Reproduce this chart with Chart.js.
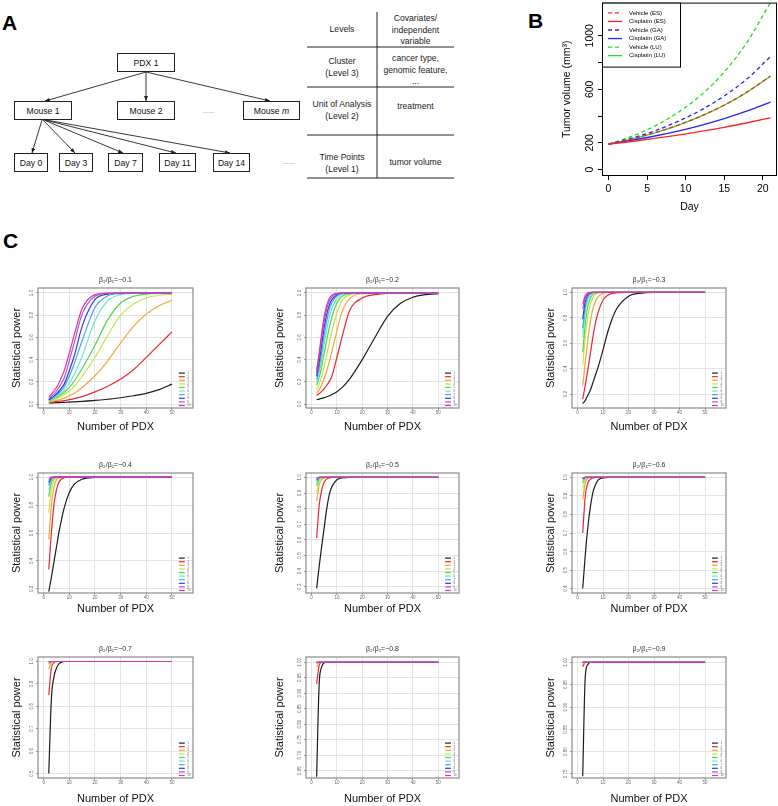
<!DOCTYPE html>
<html>
<head>
<meta charset="utf-8">
<script src="https://cdn.jsdelivr.net/npm/chart.js@4"></script>
<style>
  body { margin: 0; background: #fff; }
  #page { position: relative; width: 778px; height: 806px; overflow: hidden; font-family: "Liberation Sans", Arial, sans-serif; }
  .lbl { position: absolute; font: bold 21px/21px "Liberation Sans", Arial, sans-serif; color: #000; }
  .box { position: absolute; box-sizing: border-box; border: 1.3px solid #222; display: flex; align-items: center; justify-content: center; font-size: 8.6px; color: #111; background: #fff; white-space: nowrap; }
  .dots { position: absolute; font-size: 6px; color: #222; letter-spacing: 0.3px; }
  .cell { position: absolute; text-align: center; font-size: 8.6px; line-height: 11.5px; color: #222; white-space: nowrap; }
  canvas { position: absolute; }
</style>
</head>
<body>
<div id="page">

  <!-- ---------------- PAINEL A ---------------- -->
  <div class="lbl" style="left:2px;top:12px">A</div>
  <svg width="470" height="200" style="position:absolute;left:0;top:0">
    <defs>
      <marker id="ah" markerUnits="userSpaceOnUse" markerWidth="5" markerHeight="4" refX="5" refY="2" orient="auto">
        <path d="M0,0 L5,2 L0,4 z" fill="#222"></path>
      </marker>
    </defs>
    <g stroke="#222" stroke-width="0.9">
      <line x1="146" y1="72" x2="45" y2="101" marker-end="url(#ah)"></line>
      <line x1="146" y1="72" x2="146" y2="101" marker-end="url(#ah)"></line>
      <line x1="146" y1="72" x2="270" y2="101" marker-end="url(#ah)"></line>
      <line x1="42" y1="120" x2="32" y2="153" marker-end="url(#ah)"></line>
      <line x1="43" y1="120" x2="75" y2="153" marker-end="url(#ah)"></line>
      <line x1="44" y1="120" x2="123" y2="153" marker-end="url(#ah)"></line>
      <line x1="45" y1="120" x2="176" y2="153" marker-end="url(#ah)"></line>
      <line x1="46" y1="120" x2="230" y2="153" marker-end="url(#ah)"></line>
    </g>
    <g stroke="#222" stroke-width="1">
      <line x1="377" y1="12" x2="377" y2="178"></line>
      <line x1="307" y1="47" x2="454" y2="47"></line>
      <line x1="307" y1="87" x2="454" y2="87"></line>
      <line x1="307" y1="135" x2="454" y2="135"></line>
      <line x1="307" y1="178" x2="454" y2="178"></line>
    </g>
  </svg>
  <div class="box" style="left:117px;top:53px;width:58px;height:19px">PDX 1</div>
  <div class="box" style="left:14px;top:101px;width:58px;height:19px">Mouse 1</div>
  <div class="box" style="left:117px;top:101px;width:58px;height:19px">Mouse 2</div>
  <div class="box" style="left:243px;top:101px;width:57px;height:19px">Mouse&nbsp;<i>m</i></div>
  <div class="dots" style="left:203px;top:108px">......</div>
  <div class="box" style="left:14px;top:153px;width:34px;height:19px">Day 0</div>
  <div class="box" style="left:59px;top:153px;width:34px;height:19px">Day 3</div>
  <div class="box" style="left:108px;top:153px;width:35px;height:19px">Day 7</div>
  <div class="box" style="left:159px;top:153px;width:37px;height:19px">Day 11</div>
  <div class="box" style="left:213px;top:153px;width:37px;height:19px">Day 14</div>
  <div class="dots" style="left:283px;top:159px">......</div>

  <div class="cell" style="left:307px;width:70px;top:24px">Levels</div>
  <div class="cell" style="left:377px;width:77px;top:13px">Covariates/<br>independent<br>variable</div>
  <div class="cell" style="left:307px;width:70px;top:56px">Cluster<br>(Level 3)</div>
  <div class="cell" style="left:377px;width:77px;top:53px">cancer type,<br>genomic feature,<br>...</div>
  <div class="cell" style="left:307px;width:70px;top:99px">Unit of Analysis<br>(Level 2)</div>
  <div class="cell" style="left:377px;width:77px;top:101px">treatment</div>
  <div class="cell" style="left:307px;width:70px;top:152px">Time Points<br>(Level 1)</div>
  <div class="cell" style="left:377px;width:77px;top:157px">tumor volume</div>

  <!-- ---------------- PAINEL B ---------------- -->
  <div class="lbl" style="left:528px;top:10px">B</div>
  <canvas id="graficoVolume" width="238" height="220" style="left:540px;top:0px"></canvas>

  <!-- ---------------- PAINEL C ---------------- -->
  <div class="lbl" style="left:3px;top:230px">C</div>
</div>

<script>
// ---------------- DADOS: VOLUME DO TUMOR ----------------
const days = [0, 3, 6, 9, 12, 15, 18, 21];
const vehicleES   = [190, 229, 276, 332, 400, 482, 581, 700];
const cisplatinES = [190, 210, 233, 258, 286, 316, 350, 387];
const vehicleGA   = [190, 235, 290, 360, 445, 550, 680, 845];
const cisplatinGA = [190, 219, 251, 288, 331, 381, 438, 504];
const vehicleLU   = [190, 248, 325, 426, 557, 729, 955, 1250];
const cisplatinLU = [190, 228, 275, 331, 399, 481, 580, 698];
const groupNames = ['Vehicle (ES)', 'Cisplatin (ES)', 'Vehicle (GA)', 'Cisplatin (GA)', 'Vehicle (LU)', 'Cisplatin (LU)'];
const dayTicks = [0, 5, 10, 15, 20];
const volumeTicks = [0, 200, 400, 600, 800, 1000];
const volumeTickLabels = ['0', '200', '', '600', '', '1000'];

// ---------------- DADOS: PODER ESTATÍSTICO ----------------
const pdxCounts = [2, 3, 4, 5, 6, 7, 8, 10, 12, 15, 20, 25, 30, 35, 40, 45, 50];
const pdxTicks = [0, 10, 20, 30, 40, 50];
const sdLabels = ['1', '2', '3', '4', '5', '6', '7', '8', '9', '10'];
const betaRatios = ['−0.1', '−0.2', '−0.3', '−0.4', '−0.5', '−0.6', '−0.7', '−0.8', '−0.9'];

const power01 = [
  [0.010, 0.011, 0.012, 0.013, 0.014, 0.015, 0.016, 0.018, 0.021, 0.025, 0.033, 0.044, 0.057, 0.075, 0.097, 0.130, 0.180],
  [0.020, 0.021, 0.022, 0.024, 0.026, 0.028, 0.031, 0.040, 0.050, 0.068, 0.110, 0.160, 0.225, 0.310, 0.420, 0.535, 0.650],
  [0.020, 0.024, 0.028, 0.033, 0.039, 0.046, 0.054, 0.075, 0.100, 0.150, 0.255, 0.390, 0.550, 0.700, 0.810, 0.885, 0.935],
  [0.025, 0.032, 0.040, 0.050, 0.060, 0.072, 0.085, 0.120, 0.160, 0.250, 0.420, 0.620, 0.800, 0.900, 0.955, 0.980, 0.990],
  [0.030, 0.038, 0.048, 0.060, 0.073, 0.088, 0.105, 0.150, 0.210, 0.320, 0.530, 0.760, 0.910, 0.970, 0.990, 0.997, 1],
  [0.033, 0.043, 0.055, 0.069, 0.086, 0.105, 0.127, 0.190, 0.270, 0.430, 0.750, 0.930, 0.985, 0.997, 1, 1, 1],
  [0.036, 0.048, 0.063, 0.081, 0.102, 0.126, 0.154, 0.250, 0.370, 0.570, 0.870, 0.975, 0.995, 1, 1, 1, 1],
  [0.040, 0.055, 0.072, 0.093, 0.118, 0.147, 0.180, 0.300, 0.440, 0.700, 0.940, 0.990, 1, 1, 1, 1, 1],
  [0.050, 0.068, 0.090, 0.118, 0.150, 0.190, 0.235, 0.390, 0.560, 0.810, 0.970, 0.997, 1, 1, 1, 1, 1],
  [0.065, 0.088, 0.116, 0.150, 0.193, 0.243, 0.300, 0.460, 0.630, 0.860, 0.985, 1, 1, 1, 1, 1, 1]
];
const power02 = [
  [0.040, 0.045, 0.051, 0.058, 0.066, 0.075, 0.086, 0.112, 0.148, 0.225, 0.400, 0.600, 0.790, 0.905, 0.962, 0.985, 0.995],
  [0.080, 0.095, 0.115, 0.140, 0.170, 0.205, 0.250, 0.420, 0.600, 0.840, 0.955, 0.985, 0.997, 1, 1, 1, 1],
  [0.100, 0.130, 0.175, 0.230, 0.300, 0.380, 0.470, 0.660, 0.830, 0.950, 0.995, 1, 1, 1, 1, 1, 1],
  [0.130, 0.180, 0.250, 0.340, 0.440, 0.550, 0.650, 0.820, 0.930, 0.985, 1, 1, 1, 1, 1, 1, 1],
  [0.170, 0.240, 0.340, 0.460, 0.580, 0.690, 0.780, 0.910, 0.970, 0.995, 1, 1, 1, 1, 1, 1, 1],
  [0.190, 0.280, 0.400, 0.540, 0.670, 0.780, 0.860, 0.950, 0.990, 1, 1, 1, 1, 1, 1, 1, 1],
  [0.220, 0.330, 0.470, 0.620, 0.750, 0.850, 0.910, 0.975, 0.995, 1, 1, 1, 1, 1, 1, 1, 1],
  [0.250, 0.380, 0.540, 0.690, 0.810, 0.890, 0.940, 0.985, 1, 1, 1, 1, 1, 1, 1, 1, 1],
  [0.280, 0.430, 0.600, 0.750, 0.860, 0.930, 0.965, 0.993, 1, 1, 1, 1, 1, 1, 1, 1, 1],
  [0.300, 0.460, 0.640, 0.790, 0.890, 0.950, 0.980, 0.997, 1, 1, 1, 1, 1, 1, 1, 1, 1]
];
const power03 = [
  [0.125, 0.150, 0.190, 0.230, 0.290, 0.350, 0.410, 0.550, 0.700, 0.860, 0.970, 0.995, 1, 1, 1, 1, 1],
  [0.160, 0.270, 0.390, 0.520, 0.650, 0.760, 0.840, 0.940, 0.980, 0.997, 1, 1, 1, 1, 1, 1, 1],
  [0.265, 0.450, 0.620, 0.770, 0.870, 0.930, 0.965, 0.993, 1, 1, 1, 1, 1, 1, 1, 1, 1],
  [0.430, 0.650, 0.810, 0.910, 0.960, 0.985, 0.995, 1, 1, 1, 1, 1, 1, 1, 1, 1, 1],
  [0.530, 0.750, 0.890, 0.955, 0.985, 0.995, 1, 1, 1, 1, 1, 1, 1, 1, 1, 1, 1],
  [0.650, 0.840, 0.940, 0.980, 0.995, 1, 1, 1, 1, 1, 1, 1, 1, 1, 1, 1, 1],
  [0.720, 0.890, 0.965, 0.990, 1, 1, 1, 1, 1, 1, 1, 1, 1, 1, 1, 1, 1],
  [0.790, 0.930, 0.980, 0.995, 1, 1, 1, 1, 1, 1, 1, 1, 1, 1, 1, 1, 1],
  [0.870, 0.960, 0.990, 1, 1, 1, 1, 1, 1, 1, 1, 1, 1, 1, 1, 1, 1],
  [0.910, 0.975, 0.995, 1, 1, 1, 1, 1, 1, 1, 1, 1, 1, 1, 1, 1, 1]
];
const power04 = [
  [0.180, 0.280, 0.390, 0.500, 0.610, 0.700, 0.780, 0.890, 0.950, 0.985, 0.998, 1, 1, 1, 1, 1, 1],
  [0.340, 0.600, 0.800, 0.910, 0.965, 0.988, 0.996, 1, 1, 1, 1, 1, 1, 1, 1, 1, 1],
  [0.555, 0.800, 0.930, 0.980, 0.995, 1, 1, 1, 1, 1, 1, 1, 1, 1, 1, 1, 1],
  [0.745, 0.910, 0.975, 0.995, 1, 1, 1, 1, 1, 1, 1, 1, 1, 1, 1, 1, 1],
  [0.860, 0.960, 0.990, 1, 1, 1, 1, 1, 1, 1, 1, 1, 1, 1, 1, 1, 1],
  [0.910, 0.980, 0.997, 1, 1, 1, 1, 1, 1, 1, 1, 1, 1, 1, 1, 1, 1],
  [0.940, 0.990, 1, 1, 1, 1, 1, 1, 1, 1, 1, 1, 1, 1, 1, 1, 1],
  [0.960, 0.995, 1, 1, 1, 1, 1, 1, 1, 1, 1, 1, 1, 1, 1, 1, 1],
  [0.975, 0.998, 1, 1, 1, 1, 1, 1, 1, 1, 1, 1, 1, 1, 1, 1, 1],
  [0.985, 1, 1, 1, 1, 1, 1, 1, 1, 1, 1, 1, 1, 1, 1, 1, 1]
];
const power05 = [
  [0.290, 0.430, 0.560, 0.680, 0.800, 0.890, 0.940, 0.985, 0.997, 1, 1, 1, 1, 1, 1, 1, 1],
  [0.610, 0.820, 0.920, 0.970, 0.990, 0.997, 1, 1, 1, 1, 1, 1, 1, 1, 1, 1, 1],
  [0.850, 0.950, 0.985, 0.997, 1, 1, 1, 1, 1, 1, 1, 1, 1, 1, 1, 1, 1],
  [0.900, 0.975, 0.995, 1, 1, 1, 1, 1, 1, 1, 1, 1, 1, 1, 1, 1, 1],
  [0.945, 0.990, 1, 1, 1, 1, 1, 1, 1, 1, 1, 1, 1, 1, 1, 1, 1],
  [0.960, 0.995, 1, 1, 1, 1, 1, 1, 1, 1, 1, 1, 1, 1, 1, 1, 1],
  [0.975, 0.998, 1, 1, 1, 1, 1, 1, 1, 1, 1, 1, 1, 1, 1, 1, 1],
  [0.985, 1, 1, 1, 1, 1, 1, 1, 1, 1, 1, 1, 1, 1, 1, 1, 1],
  [0.990, 1, 1, 1, 1, 1, 1, 1, 1, 1, 1, 1, 1, 1, 1, 1, 1],
  [0.993, 1, 1, 1, 1, 1, 1, 1, 1, 1, 1, 1, 1, 1, 1, 1, 1]
];
const power06 = [
  [0.400, 0.580, 0.730, 0.840, 0.920, 0.960, 0.985, 0.998, 1, 1, 1, 1, 1, 1, 1, 1, 1],
  [0.700, 0.900, 0.970, 0.990, 0.998, 1, 1, 1, 1, 1, 1, 1, 1, 1, 1, 1, 1],
  [0.880, 0.970, 0.995, 1, 1, 1, 1, 1, 1, 1, 1, 1, 1, 1, 1, 1, 1],
  [0.940, 0.990, 1, 1, 1, 1, 1, 1, 1, 1, 1, 1, 1, 1, 1, 1, 1],
  [0.970, 0.997, 1, 1, 1, 1, 1, 1, 1, 1, 1, 1, 1, 1, 1, 1, 1],
  [0.980, 1, 1, 1, 1, 1, 1, 1, 1, 1, 1, 1, 1, 1, 1, 1, 1],
  [0.990, 1, 1, 1, 1, 1, 1, 1, 1, 1, 1, 1, 1, 1, 1, 1, 1],
  [0.993, 1, 1, 1, 1, 1, 1, 1, 1, 1, 1, 1, 1, 1, 1, 1, 1],
  [0.996, 1, 1, 1, 1, 1, 1, 1, 1, 1, 1, 1, 1, 1, 1, 1, 1],
  [0.998, 1, 1, 1, 1, 1, 1, 1, 1, 1, 1, 1, 1, 1, 1, 1, 1]
];
const power07 = [
  [0.500, 0.830, 0.930, 0.970, 0.990, 0.997, 1, 1, 1, 1, 1, 1, 1, 1, 1, 1, 1],
  [0.850, 0.970, 0.995, 1, 1, 1, 1, 1, 1, 1, 1, 1, 1, 1, 1, 1, 1],
  [0.965, 0.995, 1, 1, 1, 1, 1, 1, 1, 1, 1, 1, 1, 1, 1, 1, 1],
  [0.985, 1, 1, 1, 1, 1, 1, 1, 1, 1, 1, 1, 1, 1, 1, 1, 1],
  [0.990, 1, 1, 1, 1, 1, 1, 1, 1, 1, 1, 1, 1, 1, 1, 1, 1],
  [0.995, 1, 1, 1, 1, 1, 1, 1, 1, 1, 1, 1, 1, 1, 1, 1, 1],
  [0.997, 1, 1, 1, 1, 1, 1, 1, 1, 1, 1, 1, 1, 1, 1, 1, 1],
  [0.998, 1, 1, 1, 1, 1, 1, 1, 1, 1, 1, 1, 1, 1, 1, 1, 1],
  [0.999, 1, 1, 1, 1, 1, 1, 1, 1, 1, 1, 1, 1, 1, 1, 1, 1],
  [1, 1, 1, 1, 1, 1, 1, 1, 1, 1, 1, 1, 1, 1, 1, 1, 1]
];
const power08 = [
  [0.630, 0.930, 0.985, 0.998, 1, 1, 1, 1, 1, 1, 1, 1, 1, 1, 1, 1, 1],
  [0.930, 0.990, 1, 1, 1, 1, 1, 1, 1, 1, 1, 1, 1, 1, 1, 1, 1],
  [0.985, 1, 1, 1, 1, 1, 1, 1, 1, 1, 1, 1, 1, 1, 1, 1, 1],
  [0.995, 1, 1, 1, 1, 1, 1, 1, 1, 1, 1, 1, 1, 1, 1, 1, 1],
  [0.997, 1, 1, 1, 1, 1, 1, 1, 1, 1, 1, 1, 1, 1, 1, 1, 1],
  [0.998, 1, 1, 1, 1, 1, 1, 1, 1, 1, 1, 1, 1, 1, 1, 1, 1],
  [0.999, 1, 1, 1, 1, 1, 1, 1, 1, 1, 1, 1, 1, 1, 1, 1, 1],
  [1, 1, 1, 1, 1, 1, 1, 1, 1, 1, 1, 1, 1, 1, 1, 1, 1],
  [1, 1, 1, 1, 1, 1, 1, 1, 1, 1, 1, 1, 1, 1, 1, 1, 1],
  [1, 1, 1, 1, 1, 1, 1, 1, 1, 1, 1, 1, 1, 1, 1, 1, 1]
];
const power09 = [
  [0.745, 0.968, 0.995, 1, 1, 1, 1, 1, 1, 1, 1, 1, 1, 1, 1, 1, 1],
  [0.990, 1, 1, 1, 1, 1, 1, 1, 1, 1, 1, 1, 1, 1, 1, 1, 1],
  [0.997, 1, 1, 1, 1, 1, 1, 1, 1, 1, 1, 1, 1, 1, 1, 1, 1],
  [0.999, 1, 1, 1, 1, 1, 1, 1, 1, 1, 1, 1, 1, 1, 1, 1, 1],
  [1, 1, 1, 1, 1, 1, 1, 1, 1, 1, 1, 1, 1, 1, 1, 1, 1],
  [1, 1, 1, 1, 1, 1, 1, 1, 1, 1, 1, 1, 1, 1, 1, 1, 1],
  [1, 1, 1, 1, 1, 1, 1, 1, 1, 1, 1, 1, 1, 1, 1, 1, 1],
  [1, 1, 1, 1, 1, 1, 1, 1, 1, 1, 1, 1, 1, 1, 1, 1, 1],
  [1, 1, 1, 1, 1, 1, 1, 1, 1, 1, 1, 1, 1, 1, 1, 1, 1],
  [1, 1, 1, 1, 1, 1, 1, 1, 1, 1, 1, 1, 1, 1, 1, 1, 1]
];

const powerTicksA = [0, 0.2, 0.4, 0.6, 0.8, 1.0];
const powerTicksB = [0.2, 0.4, 0.6, 0.8, 1.0];
const powerTicks05 = [0.3, 0.4, 0.5, 0.6, 0.7, 0.8, 0.9, 1.0];
const powerTicks06 = [0.4, 0.5, 0.6, 0.7, 0.8, 0.9, 1.0];
const powerTicks07 = [0.5, 0.6, 0.7, 0.8, 0.9, 1.0];
const powerTicks08 = [0.65, 0.70, 0.75, 0.80, 0.85, 0.90, 0.95, 1.00];
const powerTicks09 = [0.75, 0.80, 0.85, 0.90, 0.95, 1.00];

// ---------------- ESTILO ----------------
Chart.defaults.font.family = '"Liberation Sans", Arial, sans-serif';
Chart.defaults.color = '#000';
Chart.defaults.animation = false;

const groupColors = ['#ff2424', '#ff2424', '#2424ff', '#2424ff', '#22dd22', '#22dd22'];
const groupDash = [[4, 3], [], [4, 3], [], [4, 3], []];
const sdColors = ['#1c1c1c', '#e8262b', '#f6a43a', '#c4e64a', '#4fd64c', '#6ee6c6', '#48a4ee', '#2a3ed6', '#b44ee6', '#e0359a'];

// ---------------- GRÁFICO VOLUME DO TUMOR ----------------
const frameB = {
  id: 'frameB',
  afterDatasetsDraw(chart) {
    const { ctx, chartArea: a } = chart;
    ctx.save();
    ctx.strokeStyle = '#000';
    ctx.lineWidth = 1;
    ctx.strokeRect(a.left + 0.5, a.top + 0.5, a.right - a.left - 1, a.bottom - a.top - 1);

    // legenda
    ctx.fillStyle = '#fff';
    ctx.fillRect(a.left + 0.5, a.top + 0.5, 78, 64);
    ctx.strokeRect(a.left + 0.5, a.top + 0.5, 78, 64);
    ctx.font = '6px "Liberation Sans", Arial, sans-serif';
    ctx.textBaseline = 'middle';
    chart.data.datasets.forEach((ds, i) => {
      const y = a.top + 10.3 + i * 8.55;
      ctx.strokeStyle = ds.borderColor;
      ctx.lineWidth = 1.3;
      ctx.setLineDash(ds.borderDash);
      ctx.beginPath();
      ctx.moveTo(a.left + 6, y);
      ctx.lineTo(a.left + 20, y);
      ctx.stroke();
      ctx.setLineDash([]);
      ctx.fillStyle = '#000';
      ctx.fillText(ds.label, a.left + 27, y);
    });
    ctx.restore();
  }
};

const seriesB = [vehicleES, cisplatinES, vehicleGA, cisplatinGA, vehicleLU, cisplatinLU];

new Chart(
  document.getElementById('graficoVolume'),
  {
    type: 'line',
    data: {
      datasets: seriesB.map((serie, i) => ({
        label: groupNames[i],
        data: days.map((d, j) => ({ x: d, y: serie[j] })),
        borderColor: groupColors[i],
        borderDash: groupDash[i],
        borderWidth: 1.3,
        pointRadius: 0,
        cubicInterpolationMode: 'monotone',
        fill: false
      }))
    },
    options: {
      responsive: false,
      devicePixelRatio: 1,
      layout: { padding: { top: 2, right: 1, left: 0, bottom: 0 } },
      plugins: { legend: { display: false }, tooltip: { enabled: false } },
      scales: {
        x: {
          type: 'linear', min: -0.84, max: 21.84,
          afterBuildTicks: s => { s.ticks = dayTicks.map(v => ({ value: v })); },
          afterFit: s => { s.height = 44; },
          grid: { drawOnChartArea: false, tickLength: 4, tickColor: '#000' },
          border: { display: false },
          ticks: { font: { size: 10.5 }, color: '#000', padding: 2.7, autoSkip: false, maxRotation: 0 },
          title: { display: true, text: 'Day', font: { size: 10.5 }, color: '#000', padding: { bottom: 6.7 } }
        },
        y: {
          type: 'linear', min: -48, max: 1248,
          afterBuildTicks: s => { s.ticks = volumeTicks.map(v => ({ value: v })); },
          afterFit: s => { s.width = 62; },
          grid: { drawOnChartArea: false, tickLength: 4, tickColor: '#000' },
          border: { display: false },
          ticks: {
            font: { size: 10.5 }, color: '#000', padding: -3.7, autoSkip: false,
            minRotation: 90, maxRotation: 90, crossAlign: 'center',
            callback: (v, i) => volumeTickLabels[i]
          },
          title: { display: true, text: 'Tumor volume (mm³)', font: { size: 10.5 }, color: '#000', padding: { top: 20.7 } }
        }
      }
    },
    plugins: [frameB]
  }
);

// ---------------- GRÁFICOS PODER ESTATÍSTICO ----------------
const panelsC = [
  { power: power01, yMin: -0.035, yMax: 1.045, yTicks: powerTicksA, dec: 1 },
  { power: power02, yMin: -0.035, yMax: 1.045, yTicks: powerTicksA, dec: 1 },
  { power: power03, yMin: 0.09, yMax: 1.035, yTicks: powerTicksB, dec: 1 },
  { power: power04, yMin: 0.17, yMax: 1.03, yTicks: powerTicksB, dec: 1 },
  { power: power05, yMin: 0.26, yMax: 1.028, yTicks: powerTicks05, dec: 1 },
  { power: power06, yMin: 0.376, yMax: 1.024, yTicks: powerTicks06, dec: 1 },
  { power: power07, yMin: 0.48, yMax: 1.02, yTicks: powerTicks07, dec: 1 },
  { power: power08, yMin: 0.626, yMax: 1.017, yTicks: powerTicks08, dec: 2 },
  { power: power09, yMin: 0.741, yMax: 1.012, yTicks: powerTicks09, dec: 2 }
];

// caixas das áreas de plotagem (px)
const colLeft = [38, 306, 572], colRight = [193, 459, 726];
const rowTop = [288, 473, 657], rowBottom = [408, 593, 778];
const yTitlePad = [8.4, 3.4, 8.4];
const xTitlePad = [2.4, 5.4, 0.4];

const powerDecor = {
  id: 'powerDecor',
  afterDatasetsDraw(chart, args, opts) {
    const { ctx, chartArea: a } = chart;
    const x = chart.scales.x;
    ctx.save();
    ctx.strokeStyle = '#8a8a8a';
    ctx.lineWidth = 1.2;
    ctx.strokeRect(a.left, a.top, a.right - a.left, a.bottom - a.top);

    ctx.fillStyle = '#333';
    ctx.font = '7px "Liberation Sans", Arial, sans-serif';
    ctx.textAlign = 'center';
    ctx.textBaseline = 'middle';
    ctx.fillText('β₂/β₁=' + opts.beta, (a.left + a.right) / 2, a.top - 7.5);

    // legenda
    ctx.font = '3px "Liberation Sans", Arial, sans-serif';
    ctx.textAlign = 'left';
    chart.data.datasets.forEach((ds, k) => {
      const y = a.bottom - 2.5 - (9 - k) * 3.6;
      ctx.strokeStyle = ds.borderColor;
      ctx.lineWidth = 1.2;
      ctx.beginPath();
      ctx.moveTo(x.getPixelForValue(52.7), y);
      ctx.lineTo(x.getPixelForValue(55), y);
      ctx.stroke();
      ctx.fillStyle = '#666';
      ctx.fillText(ds.label, x.getPixelForValue(56), y);
    });
    ctx.restore();
  }
};

panelsC.forEach((p, i) => {
  const col = i % 3, row = Math.floor(i / 3);
  const canvas = document.createElement('canvas');
  canvas.width = colRight[col] - colLeft[col] + 40;
  canvas.height = rowBottom[row] - rowTop[row] + 42;
  canvas.style.left = (colLeft[col] - 36) + 'px';
  canvas.style.top = (rowTop[row] - 14) + 'px';
  document.getElementById('page').appendChild(canvas);

  new Chart(canvas, {
    type: 'line',
    data: {
      datasets: p.power.map((serie, k) => ({
        label: sdLabels[k],
        data: pdxCounts.map((n, j) => ({ x: n, y: serie[j] })),
        borderColor: sdColors[k],
        borderWidth: 1.2,
        pointRadius: 0,
        cubicInterpolationMode: 'monotone',
        fill: false,
        order: 9 - k
      }))
    },
    options: {
      responsive: false,
      devicePixelRatio: 1,
      layout: { padding: { top: 14, right: 4, left: 0, bottom: 0 } },
      plugins: {
        legend: { display: false },
        tooltip: { enabled: false },
        powerDecor: { beta: betaRatios[i] }
      },
      scales: {
        x: {
          type: 'linear', min: -2.2, max: 58.2,
          afterBuildTicks: s => { s.ticks = pdxTicks.map(v => ({ value: v })); },
          afterFit: s => { s.height = 28; },
          grid: { color: '#e4e4e4', tickColor: '#999', tickLength: 2 },
          border: { display: false },
          ticks: { font: { size: 4.5 }, color: '#666', padding: 0.3, autoSkip: false, maxRotation: 0 },
          title: { display: true, text: 'Number of PDX', font: { size: 11 }, color: '#111', padding: { bottom: xTitlePad[row] } }
        },
        y: {
          type: 'linear', min: p.yMin, max: p.yMax,
          afterBuildTicks: s => { s.ticks = p.yTicks.map(v => ({ value: v })); },
          afterFit: s => { s.width = 36; },
          grid: { color: '#e4e4e4', tickColor: '#999', tickLength: 2 },
          border: { display: false },
          ticks: {
            font: { size: 4.5 }, color: '#666', padding: p.dec === 2 ? -0.4 : 0.9, autoSkip: false,
            minRotation: 90, maxRotation: 90, crossAlign: 'center',
            callback: v => v.toFixed(p.dec)
          },
          title: { display: true, text: 'Statistical power', font: { size: 11 }, color: '#111', padding: { top: yTitlePad[col] } }
        }
      }
    },
    plugins: [powerDecor]
  });
});
</script>
</body>
</html>
